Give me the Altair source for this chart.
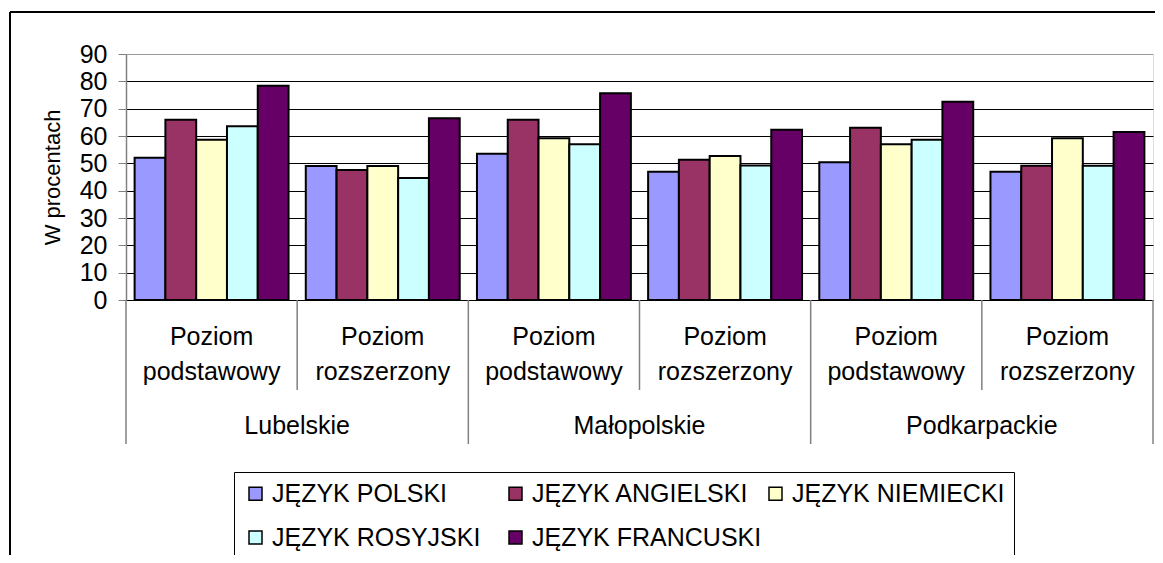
import altair as alt
import pandas as pd

FONT = "Liberation Sans"

regions = ["Lubelskie", "Małopolskie", "Podkarpackie"]
levels = ["Poziom podstawowy", "Poziom rozszerzony"]
level_labels = ["Poziom\npodstawowy", "Poziom\nrozszerzony"]
languages = ["JĘZYK POLSKI", "JĘZYK ANGIELSKI", "JĘZYK NIEMIECKI",
             "JĘZYK ROSYJSKI", "JĘZYK FRANCUSKI"]
colors = ["#9999FF", "#993366", "#FFFFCC", "#CCFFFF", "#660066"]

# order: Lub-podst, Lub-rozsz, Mał-podst, Mał-rozsz, Podk-podst, Podk-rozsz
polski = [52.0, 49.0, 53.5, 46.9, 50.4, 46.9]
angielski = [65.9, 47.6, 65.9, 51.3, 63.0, 49.1]
niemiecki = [58.6, 49.0, 59.2, 52.7, 57.0, 59.2]
rosyjski = [63.6, 44.6, 57.0, 49.2, 58.6, 49.1]
francuski = [78.4, 66.5, 75.6, 62.3, 72.5, 61.5]
y_ticks = list(range(0, 91, 10))

series = [polski, angielski, niemiecki, rosyjski, francuski]

cats, cat_region, cat_level, cat_label = [], [], [], []
for r in regions:
    for lv, lab in zip(levels, level_labels):
        cats.append(f"{r} | {lv}")
        cat_region.append(r)
        cat_level.append(lv)
        cat_label.append(lab)

rows = []
for lang, vals in zip(languages, series):
    for c, v in zip(cats, vals):
        rows.append({"cat": c, "lang": lang, "value": v})
bars_df = pd.DataFrame(rows)

cat_df = pd.DataFrame({"cat": cats, "region": cat_region,
                       "level": cat_level, "label": cat_label})
first_df = cat_df[cat_df["level"] == levels[0]]
second_df = cat_df[cat_df["level"] == levels[1]]
last_df = cat_df.tail(1)

xscale = alt.Scale(domain=cats, paddingInner=0, paddingOuter=0)


def xenc(bp=None):
    if bp is None:
        return alt.X("cat:N", sort=cats, scale=xscale, axis=None)
    return alt.X("cat:N", sort=cats, scale=xscale, axis=None, bandPosition=bp)


bars = alt.Chart(bars_df).mark_bar(stroke="black", strokeWidth=2).encode(
    x=xenc(),
    xOffset=alt.XOffset("lang:N", sort=languages,
                        scale=alt.Scale(domain=languages, paddingInner=0, paddingOuter=0.28)),
    y=alt.Y("value:Q", scale=alt.Scale(domain=[0, 90], nice=False),
            axis=alt.Axis(values=y_ticks, title="W procentach",
                          titleFont=FONT, titleFontSize=22, titleFontWeight="normal",
                          titleColor="black", titleX=-74, titleY=123,
                          titleAngle=270, titleAlign="center", titleBaseline="middle",
                          labelFont=FONT, labelFontSize=25, labelColor="black",
                          labelPadding=11, tickSize=8, tickColor="#808080",
                          domainColor="#808080", domainWidth=1.5,
                          grid=True,
                          gridColor={"condition": {"test": "datum.value === 90", "value": "#999999"},
                                     "value": "black"},
                          gridWidth=1)),
    color=alt.Color("lang:N", sort=languages,
                    scale=alt.Scale(domain=languages, range=colors),
                    legend=alt.Legend(title=None, orient="none", legendX=108, legendY=418,
                                      direction="horizontal", columns=3, gridAlign="all",
                                      columnPadding=1, rowPadding=18,
                                      labelFont=FONT, labelFontSize=25, labelColor="black",
                                      labelLimit=400, labelOffset=4,
                                      symbolType="square", symbolSize=169,
                                      symbolStrokeColor="black", symbolStrokeWidth=1.5,
                                      padding=9, strokeColor="black", fillColor="white")),
)

level_text = alt.Chart(cat_df).mark_text(
    font=FONT, fontSize=25, color="black", lineBreak="\n", lineHeight=35,
    baseline="alphabetic", align="center"
).encode(x=xenc(), y=alt.value(291), text="label:N")

region_text = alt.Chart(first_df).mark_text(
    font=FONT, fontSize=25, color="black", baseline="alphabetic", align="center"
).encode(x=xenc(1), y=alt.value(380), text="region:N")

short_sep = alt.Chart(second_df).mark_rule(color="#808080", strokeWidth=1.5).encode(
    x=xenc(0), y=alt.value(246), y2=alt.value(336))
long_sep = alt.Chart(first_df).mark_rule(color="#808080", strokeWidth=1.5).encode(
    x=xenc(0), y=alt.value(246), y2=alt.value(390))
end_sep = alt.Chart(last_df).mark_rule(color="#808080", strokeWidth=1.5).encode(
    x=xenc(1), y=alt.value(246), y2=alt.value(390))

frame_left = alt.Chart(cat_df.head(1)).mark_rule(color="black", strokeWidth=2).encode(
    x=alt.value(-116), y=alt.value(-42), y2=alt.value(520))
frame_top = alt.Chart(cat_df.head(1)).mark_rule(color="black", strokeWidth=2).encode(
    x=alt.value(-116), x2=alt.value(1100), y=alt.value(-42))

chart = alt.layer(
    bars, level_text, region_text, short_sep, long_sep, end_sep, frame_left, frame_top
).properties(
    width=1027, height=246,
    padding={"left": 118, "top": 46, "right": 2, "bottom": 255},
    autosize=alt.AutoSizeParams(type="none"),
).configure_view(
    stroke="#999999", strokeWidth=2
).configure(background="white")

chart.save("out.html", embed_options={"renderer": "svg", "actions": False})
